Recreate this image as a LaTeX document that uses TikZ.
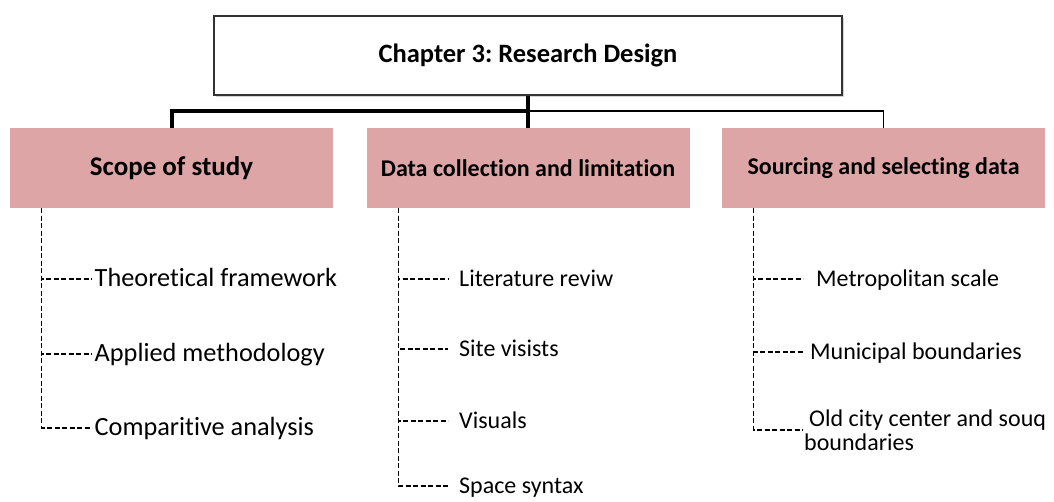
\documentclass[tikz,border=0pt]{standalone}
\usepackage{fontspec}
\setmainfont{Carlito}[Ligatures={NoCommon,NoRare}]
\usetikzlibrary{shadows}
\definecolor{headpink}{RGB}{221,165,165}
\frenchspacing

\begin{document}
\begin{tikzpicture}[
  x=1pt,y=-1pt,
  chap/.style={draw=black!80,line width=1.4pt,fill=white,minimum width=628pt,minimum height=79pt,
    font=\fontsize{26.5}{30}\selectfont\bfseries,
    drop shadow={shadow xshift=2pt,shadow yshift=-2pt,opacity=0.35}},
  head/.style={fill=headpink,minimum width=323pt,minimum height=80pt,inner sep=0pt,
    font=\fontsize{24}{28}\selectfont\bfseries},
  item/.style={anchor=west,text height=14pt,text depth=0pt,inner ysep=0pt},
  trunk/.style={line width=4pt},
  link/.style={line width=1.8pt},
  branch/.style={line width=1.1pt,dash pattern=on 5pt off 2.5pt}
]
\useasboundingbox (0,0) rectangle (1054,501);

% top level and the three parts
\node[chap] (chapter) at (528,55.5) {Chapter 3: Research Design};
\node[head,font=\fontsize{27}{30}\selectfont\bfseries] (scope) at (171.5,168) {Scope of study};
\node[head] (collect) at (528,168) {Data collection and limitation};
\node[head] (source) at (883.5,168) {Sourcing and selecting data};

\coordinate (hub) at (528,111);
\draw[trunk] (chapter.south) -- (collect.north);
\draw[trunk] (scope.north) |- (hub);
\draw[link] (hub) -| (source.north);

% Scope of study
\begin{scope}[every node/.style={font=\fontsize{26.3}{30}\selectfont,inner xsep=2.5pt}]
\node[item] (theory) at (92,279) {Theoretical framework};
\node[item] (method) at (92,354) {Applied methodology};
\node[item] (compare) at (92,428) {Comparitive analysis};
\end{scope}
\foreach \n in {theory,method,compare}
  \draw[branch] ([xshift=32pt]scope.south west) |- (\n.west);

% Data collection and limitation
\begin{scope}[every node/.style={font=\fontsize{24}{28}\selectfont,inner xsep=11pt}]
\node[item] (review) at (448,279) {Literature reviw};
\node[item] (visits) at (448,349) {Site visists};
\node[item] (visuals) at (448,421) {Visuals};
\node[item] (syntax) at (448,486) {Space syntax};
\end{scope}
\foreach \n in {review,visits,visuals,syntax}
  \draw[branch] ([xshift=32pt]collect.south west) |- (\n.west);

% Sourcing and selecting data
\begin{scope}[every node/.style={font=\fontsize{24}{24.5}\selectfont}]
\node[item,inner xsep=13pt] (metro) at (803,279) {Metropolitan scale};
\node[item,inner xsep=7pt] (municipal) at (803,352) {Municipal boundaries};
\node[anchor=west,align=left,inner xsep=1pt,inner ysep=0pt] (oldcity) at (803,430)
  {\hspace{5pt}Old city center and souq\\boundaries};
\end{scope}
\foreach \n in {metro,municipal,oldcity}
  \draw[branch] ([xshift=32pt]source.south west) |- (\n.west);
\end{tikzpicture}
\end{document}
